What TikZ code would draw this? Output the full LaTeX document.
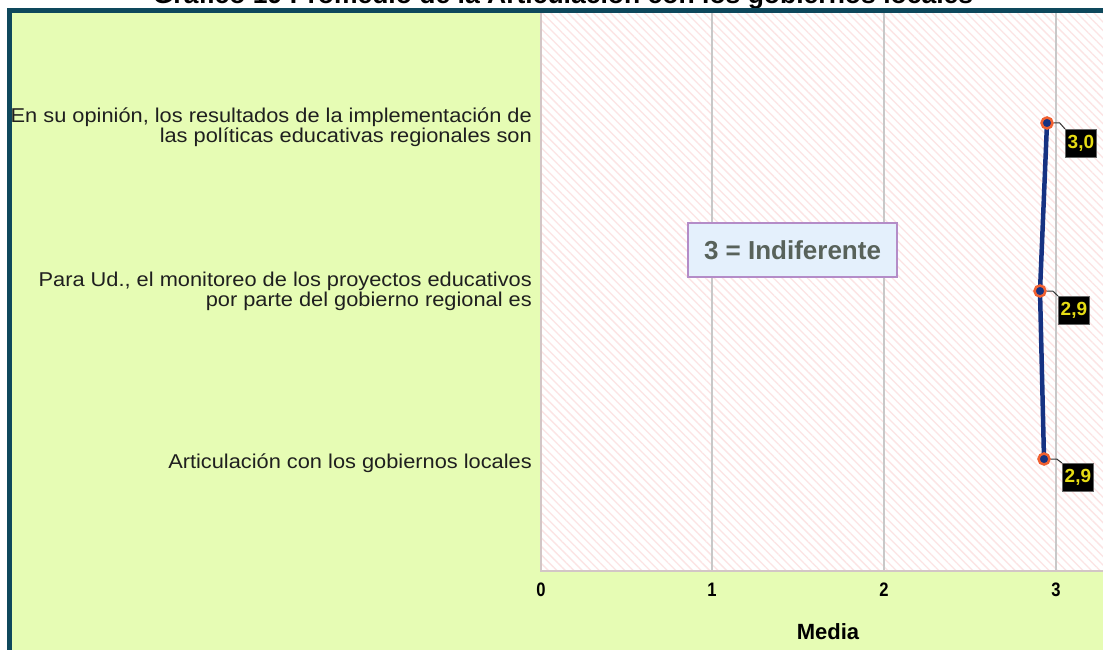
\documentclass[tikz,border=0pt]{standalone}
\usepackage{fontspec}
\setmainfont{Liberation Sans}
\newfontfamily\widesans[FakeStretch=1.09]{Liberation Sans}
\newfontfamily\narrowsans[FakeStretch=0.85]{Liberation Sans}
\usetikzlibrary{patterns.meta}
\definecolor{framegreen}{RGB}{230,252,180}
\definecolor{frameblue}{RGB}{14,72,92}
\definecolor{hatchpink}{RGB}{252,228,228}
\definecolor{gridgray}{RGB}{200,200,200}
\definecolor{boxblue}{RGB}{228,240,252}
\definecolor{boxpurple}{RGB}{180,140,200}
\definecolor{boxtext}{RGB}{88,98,90}
\definecolor{linenavy}{RGB}{22,50,130}
\definecolor{ptorange}{RGB}{240,96,48}
\definecolor{labyellow}{RGB}{230,220,20}
\tikzset{
  catlabel/.style={anchor=east, align=right, inner sep=0pt, text=black!88, font=\widesans\fontsize{20}{20}\selectfont},
  ticklabel/.style={inner sep=0pt, font=\narrowsans\bfseries\fontsize{19.5}{21}\selectfont},
  gridline/.style={draw=gridgray, line width=2},
  datapt/.style={circle, fill=linenavy, draw=ptorange, line width=2.5, minimum size=11, inner sep=0pt},
  valbox/.style={fill=black, draw=black!60, line width=0.8, text=labyellow, font=\bfseries\fontsize{19}{21}\selectfont, minimum width=31, minimum height=28, inner sep=0pt, anchor=north west},
  leader/.style={draw=black!80, line width=1},
}
\begin{document}
\begin{tikzpicture}[x=1pt,y=-1pt]
\useasboundingbox (0,0) rectangle (1103,650);
\clip (0,0) rectangle (1103,650);
\fill[white] (0,0) rectangle (1103,650);
% title (cut off at the top)
\node[anchor=base, inner sep=0pt, font=\bfseries\fontsize{26.5}{30}\selectfont] (title) at (563,4) {Gráfico 19 Promedio de la Articulación con los gobiernos locales};
% frame
\fill[framegreen] (7,9) rectangle (1120,670);
\draw[frameblue, line width=5] (9.5,680) -- (9.5,11) -- (1120,11);
% plot area
\fill[white] (541,13.5) rectangle (1120,571);
\fill[pattern={Lines[angle=-45,distance=6pt,line width=1.3pt]}, pattern color=hatchpink] (541,13.5) rectangle (1120,571);
\draw[draw=gridgray!80!pink, line width=1.2] (541,13.5) -- (541,571) -- (1120,571);
\foreach \gx in {712,884,1056} \draw[gridline] (\gx,13.5) -- (\gx,570);
% ticks
\node[ticklabel] (t0) at (541,590) {0};
\node[ticklabel] (t1) at (712,590) {1};
\node[ticklabel] (t2) at (884,590) {2};
\node[ticklabel] (t3) at (1056,590) {3};
\node[inner sep=0pt, font=\bfseries\fontsize{22}{24}\selectfont] (xlab) at (828,632) {Media};
% category labels
\node[catlabel] (c1) at (532,127) {En su opinión, los resultados de la implementación de\\las políticas educativas regionales son};
\node[catlabel] (c2) at (532,291) {Para Ud., el monitoreo de los proyectos educativos\\por parte del gobierno regional es};
\node[catlabel] (c3) at (532,463) {Articulación con los gobiernos locales};
% indiferente box
\node[draw=boxpurple, fill=boxblue, line width=1.5, minimum width=209, minimum height=54, inner sep=0pt, text=boxtext, font=\bfseries\fontsize{26}{28}\selectfont] (ind) at (792.5,250) {3 = Indiferente};
% data
\coordinate (p1) at (1047,123);
\coordinate (p2) at (1040,291);
\coordinate (p3) at (1044,459);
\draw[linenavy, line width=4.5, line join=round] (p1) -- (p2) -- (p3);
\node[datapt] (d1) at (p1) {};
\node[datapt] (d2) at (p2) {};
\node[datapt] (d3) at (p3) {};
\node[valbox] (v1) at (1065,129) {3,0};
\node[valbox] (v2) at (1058,296) {2,9};
\node[valbox] (v3) at (1062,463) {2,9};
\draw[leader] (d1.east) -- ++(6,0) -- (v1.north west);
\draw[leader] (d2.east) -- ++(6,0) -- (v2.north west);
\draw[leader] (d3.east) -- ++(6,0) -- (v3.north west);
\end{tikzpicture}
\end{document}
